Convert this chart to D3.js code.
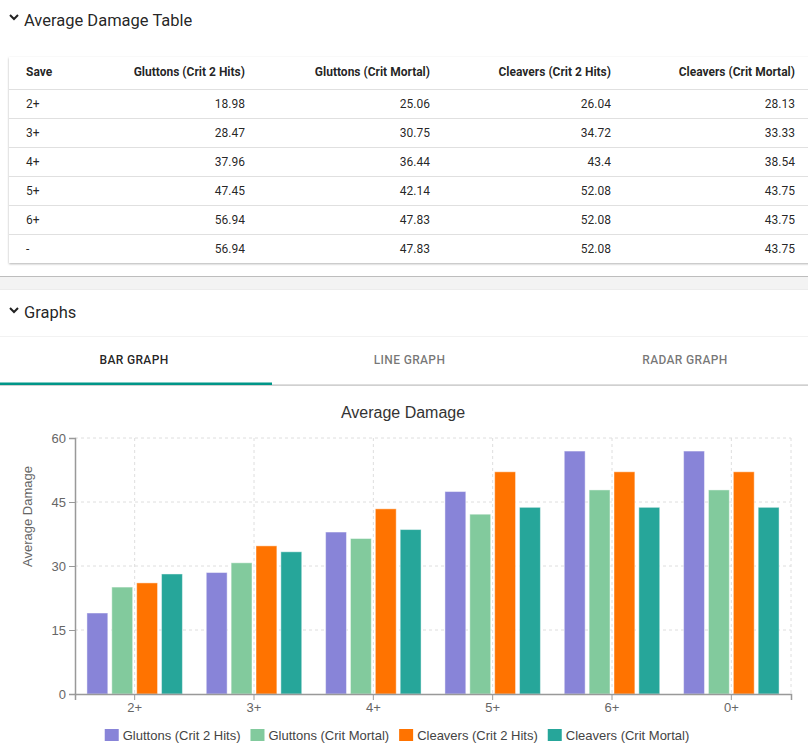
<!DOCTYPE html>
<html>
<head>
<meta charset="utf-8">
<script src="https://cdn.jsdelivr.net/npm/d3@7/dist/d3.min.js"></script>
<style>
  html, body { margin: 0; padding: 0; background: #fff; }
  svg { display: block; font-family: Roboto, "Liberation Sans", Arial, sans-serif; }
  .chartfont { font-family: "Liberation Sans", Arial, sans-serif; }
</style>
</head>
<body>
<svg id="page" width="808" height="755"></svg>
<script>
// ---------- DATA ----------
const tableSaves = ["2+", "3+", "4+", "5+", "6+", "-"];
const chartCategories = ["2+", "3+", "4+", "5+", "6+", "0+"];
const seriesNames = ["Gluttons (Crit 2 Hits)", "Gluttons (Crit Mortal)", "Cleavers (Crit 2 Hits)", "Cleavers (Crit Mortal)"];
const gluttonsCrit2Hits = [18.98, 28.47, 37.96, 47.45, 56.94, 56.94];
const gluttonsCritMortal = [25.06, 30.75, 36.44, 42.14, 47.83, 47.83];
const cleaversCrit2Hits = [26.04, 34.72, 43.4, 52.08, 52.08, 52.08];
const cleaversCritMortal = [28.13, 33.33, 38.54, 43.75, 43.75, 43.75];
const yTicks = [0, 15, 30, 45, 60];
const tabLabels = ["BAR GRAPH", "LINE GRAPH", "RADAR GRAPH"];
const seriesColors = ["#8884d8", "#82ca9d", "#ff7300", "#26a69a"];

const seriesValues = [gluttonsCrit2Hits, gluttonsCritMortal, cleaversCrit2Hits, cleaversCritMortal];

const svg = d3.select("#page");

// defs: shadow
const defs = svg.append("defs");
const f = defs.append("filter").attr("id", "shadow").attr("x", "-5%").attr("y", "-10%").attr("width", "110%").attr("height", "125%");
f.append("feDropShadow").attr("dx", 0).attr("dy", 1).attr("stdDeviation", 1.2).attr("flood-color", "#000").attr("flood-opacity", 0.3);

// ---------- Section 1 heading ----------
function chevron(x, y) {
  svg.append("path")
    .attr("d", `M${x - 4},${y - 2} L${x},${y + 2} L${x + 4},${y - 2}`)
    .attr("fill", "none").attr("stroke", "#222").attr("stroke-width", 2);
}
chevron(14, 17);
svg.append("text").attr("x", 24).attr("y", 26).attr("font-size", 16.5)
  .attr("fill", "rgba(0,0,0,0.87)").text("Average Damage Table");

// ---------- Table paper ----------
svg.append("rect").attr("x", 9).attr("y", 57).attr("width", 820).attr("height", 206)
  .attr("fill", "#fff").attr("filter", "url(#shadow)");

const colRights = [null, 245, 430, 611, 795];
const headerY = 72;
const rowH = 29;
const headers = ["Save"].concat(seriesNames);
const tbl = svg.append("g").attr("font-size", 12).attr("fill", "rgba(0,0,0,0.87)");
headers.forEach((h, i) => {
  tbl.append("text")
    .attr("x", i === 0 ? 26 : colRights[i])
    .attr("y", headerY).attr("dy", "0.35em")
    .attr("text-anchor", i === 0 ? "start" : "end")
    .attr("font-weight", 700)
    .text(h);
});
// row lines
d3.range(tableSaves.length).forEach(r => {
  svg.append("line").attr("x1", 9).attr("x2", 808)
    .attr("y1", 89.5 + r * rowH).attr("y2", 89.5 + r * rowH)
    .attr("stroke", "#e0e0e0").attr("stroke-width", 1);
});
tableSaves.forEach((s, r) => {
  const cy = 103.5 + r * rowH;
  tbl.append("text").attr("x", 26).attr("y", cy).attr("dy", "0.35em").text(s);
  seriesValues.forEach((vals, c) => {
    tbl.append("text").attr("x", colRights[c + 1]).attr("y", cy).attr("dy", "0.35em")
      .attr("text-anchor", "end").text(String(vals[r]));
  });
});

// ---------- accordion edge & gap ----------
svg.append("rect").attr("x", 0).attr("y", 276).attr("width", 808).attr("height", 1).attr("fill", "#bdbdbd");
svg.append("rect").attr("x", 0).attr("y", 277).attr("width", 808).attr("height", 12).attr("fill", "#f3f3f3");
svg.append("rect").attr("x", 0).attr("y", 289).attr("width", 808).attr("height", 1).attr("fill", "#ececec");

// ---------- Graphs heading ----------
chevron(14, 310);
svg.append("text").attr("x", 24).attr("y", 318).attr("font-size", 16.5)
  .attr("fill", "rgba(0,0,0,0.87)").text("Graphs");

// ---------- Tabs ----------
svg.append("rect").attr("x", 0).attr("y", 336).attr("width", 808).attr("height", 1).attr("fill", "#f2f2f2");
const tabCenters = [134, 409.5, 685];
tabLabels.forEach((t, i) => {
  svg.append("text").attr("x", tabCenters[i]).attr("y", 360).attr("dy", "0.35em")
    .attr("text-anchor", "middle").attr("font-size", 12).attr("font-weight", 500)
    .attr("letter-spacing", 0.35)
    .attr("fill", i === 0 ? "rgba(0,0,0,0.87)" : "rgba(0,0,0,0.55)").text(t);
});
svg.append("rect").attr("x", 0).attr("y", 384.5).attr("width", 808).attr("height", 1.2).attr("fill", "#bdbdbd");
svg.append("rect").attr("x", 0).attr("y", 382.5).attr("width", 272).attr("height", 2.5).attr("fill", "#009688");

// ---------- Bar chart ----------
const margin = { left: 75, right: 791, top: 438, bottom: 694 };
const x0 = d3.scaleBand().domain(chartCategories).range([margin.left, margin.right]).paddingInner(0).paddingOuter(0);
const y = d3.scaleLinear().domain([0, 60]).range([margin.bottom, margin.top]);

const chart = svg.append("g").attr("class", "chartfont");

// title
chart.append("text").attr("x", 403).attr("y", 412).attr("dy", "0.35em")
  .attr("text-anchor", "middle").attr("font-size", 16).attr("fill", "#333").text("Average Damage");

// grid
const grid = chart.append("g").attr("stroke", "#dedede").attr("stroke-dasharray", "3 3").attr("fill", "none");
yTicks.filter(t => t > 0).forEach(t => {
  grid.append("line").attr("x1", margin.left).attr("x2", margin.right).attr("y1", y(t)).attr("y2", y(t));
});
chartCategories.forEach(c => {
  const cx = x0(c) + x0.bandwidth() / 2;
  grid.append("line").attr("x1", cx).attr("x2", cx).attr("y1", margin.top).attr("y2", margin.bottom);
});
grid.append("line").attr("x1", margin.right).attr("x2", margin.right).attr("y1", margin.top).attr("y2", margin.bottom);

// bars
const band = x0.bandwidth();
const catGap = band * 0.1;
const barGap = 4;
const barW = (band - 2 * catGap - barGap * (seriesNames.length - 1)) / seriesNames.length;
const x1 = d3.scaleBand().domain(d3.range(seriesNames.length))
  .range([0, band - 2 * catGap + barGap]).paddingInner(0).paddingOuter(0);

seriesValues.forEach((vals, s) => {
  chart.append("g").selectAll("rect").data(vals).join("rect")
    .attr("x", (d, i) => x0(chartCategories[i]) + catGap + x1(s))
    .attr("y", d => y(d))
    .attr("width", barW)
    .attr("height", d => y(0) - y(d))
    .attr("fill", seriesColors[s])
    .attr("stroke", "#fff").attr("stroke-opacity", 0.45).attr("stroke-width", 1);
});

// axes
const yAxis = d3.axisLeft(y).tickValues(yTicks).tickSize(6).tickPadding(3);
const gy = chart.append("g").attr("transform", `translate(${margin.left},0)`).call(yAxis);
const xAxis = d3.axisBottom(x0).tickSize(6).tickPadding(3);
const gx = chart.append("g").attr("transform", `translate(0,${margin.bottom})`).call(xAxis);
[gy, gx].forEach(g => {
  g.select(".domain").attr("stroke", "#999").attr("stroke-width", 1.5);
  g.selectAll(".tick line").attr("stroke", "#999");
  g.selectAll(".tick text").attr("fill", "#666").attr("font-size", 13).attr("font-family", "'Liberation Sans', Arial, sans-serif");
});

// y axis label
chart.append("text")
  .attr("transform", `translate(27,516.5) rotate(-90)`)
  .attr("text-anchor", "middle").attr("dy", "0.35em")
  .attr("font-size", 13).attr("fill", "#666").text("Average Damage");

// legend
const legend = chart.append("g").attr("transform", "translate(0,735)");
let cursor = 0;
const items = [];
seriesNames.forEach((n, i) => {
  const g = legend.append("g");
  g.append("rect").attr("x", 0).attr("y", -6).attr("width", 14).attr("height", 12).attr("fill", seriesColors[i]);
  const t = g.append("text").attr("x", 18).attr("y", 0).attr("dy", "0.35em")
    .attr("font-size", 13).attr("fill", "#444").text(n);
  const w = 18 + t.node().getComputedTextLength();
  items.push({ g, x: cursor });
  cursor += w + 10;
});
const startX = 402 - cursor / 2;
items.forEach(it => it.g.attr("transform", `translate(${startX + it.x},0)`));
</script>
</body>
</html>
